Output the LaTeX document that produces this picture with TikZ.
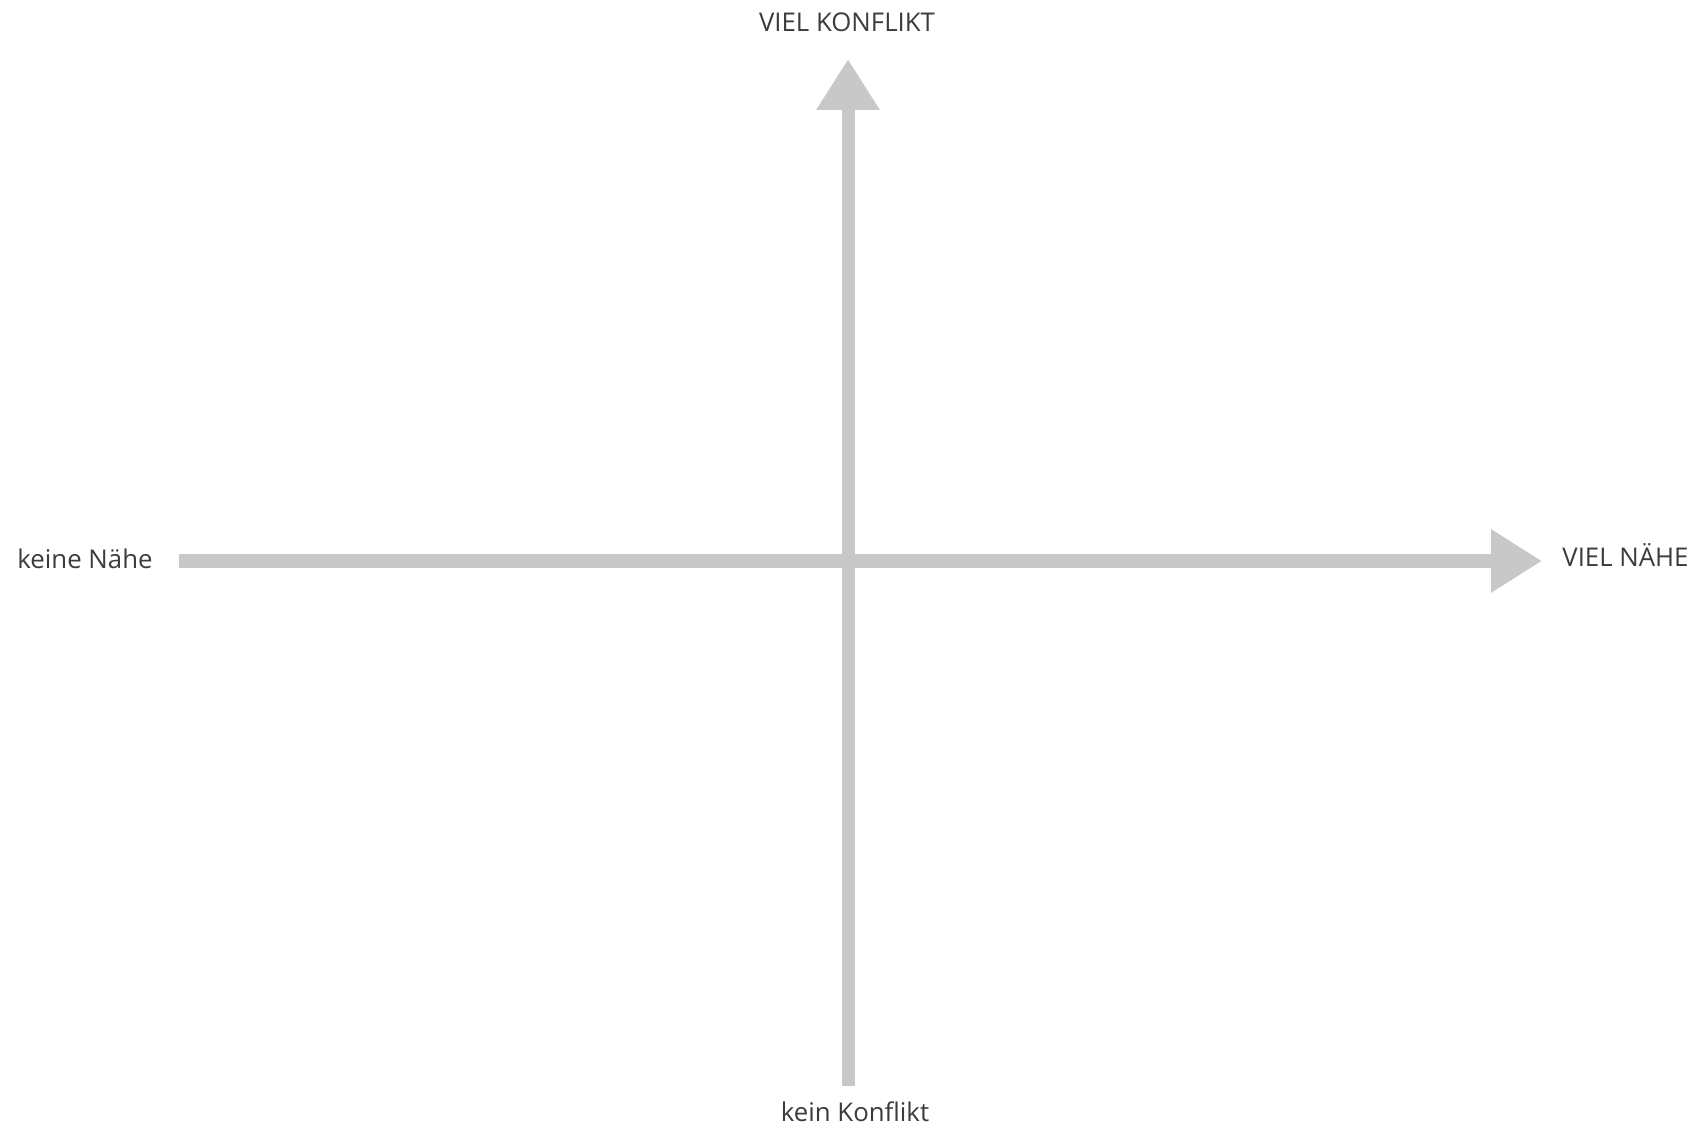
\documentclass[tikz,border=0pt]{standalone}
\usepackage{fontspec}
\setmainfont{Open Sans}
\usepackage{tikz}
\usetikzlibrary{positioning,arrows.meta}
\definecolor{axisgray}{RGB}{200,200,200}
\definecolor{labelgray}{RGB}{60,60,60}

\begin{document}
\begin{tikzpicture}[
  x=0.5pt, y=-0.5pt,
  axis/.style={line width=6.5pt, draw=axisgray,
               -{Triangle[length=25.5pt, width=30pt, fill=axisgray]}},
  lbl/.style={font=\fontsize{12.9}{15}\selectfont, text=labelgray, inner sep=0pt},
]
\useasboundingbox (0,0) rectangle (1698,1128);
\coordinate (xlo) at (179,561);
\coordinate (xhi) at (1542,561);
\coordinate (ylo) at (848,1086);
\coordinate (yhi) at (848,59);

\draw[axis] (xlo) -- (xhi);
\draw[axis] (ylo) -- (yhi);

\node[lbl, anchor=base east]  (lowN)  at (153,568)  {keine Nähe};
\node[lbl, anchor=base west]  (highN) at (1562,567) {VIEL NÄHE};
\node[lbl, anchor=base]       (highK) at (847,32)   {VIEL KONFLIKT};
\node[lbl, anchor=base]       (lowK)  at (855,1121) {kein Konflikt};
\end{tikzpicture}
\end{document}
